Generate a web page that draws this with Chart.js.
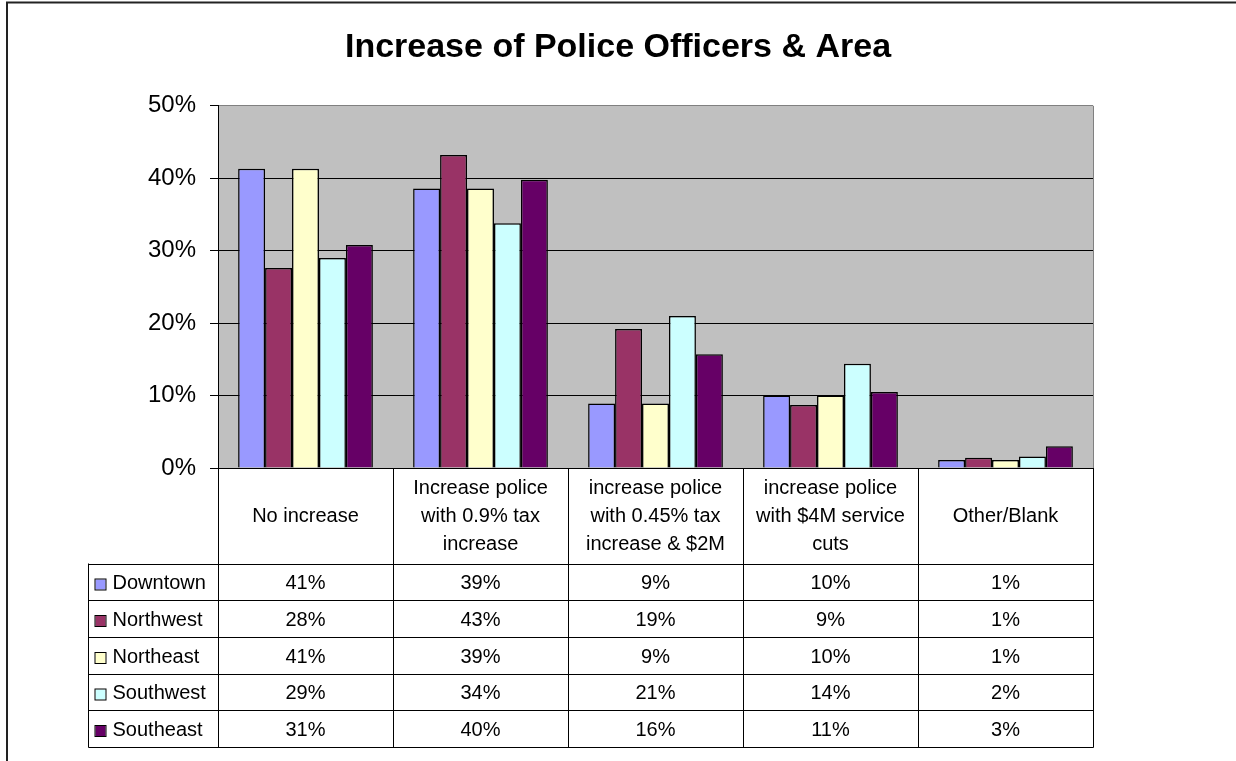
<!DOCTYPE html>
<html>
<head>
<meta charset="utf-8">
<title>Increase of Police Officers &amp; Area</title>
<script src="https://cdn.jsdelivr.net/npm/chart.js@4.4.1/dist/chart.umd.min.js"></script>
<style>
  html, body { margin: 0; padding: 0; background: #fff; }
  #wrap { position: relative; width: 1236px; height: 761px; }
</style>
</head>
<body>
<div id="wrap"><canvas id="chart"></canvas></div>
<script>
// survey answers, in percent of respondents per area
const categories = [
  ['No increase'],
  ['Increase police', 'with 0.9% tax', 'increase'],
  ['increase police', 'with 0.45% tax', 'increase & $2M'],
  ['increase police', 'with $4M service', 'cuts'],
  ['Other/Blank']
];
const regions = ['Downtown', 'Northwest', 'Northeast', 'Southwest', 'Southeast'];
const downtown  = [41.3, 38.6,  8.9, 10.0, 1.1];
const northwest = [27.6, 43.2, 19.2,  8.7, 1.4];
const northeast = [41.3, 38.6,  8.9, 10.0, 1.1];
const southwest = [29.0, 33.8, 21.0, 14.4, 1.6];
const southeast = [30.8, 39.8, 15.7, 10.5, 3.0];
const yTicks = [0, 10, 20, 30, 40, 50];

const values = [downtown, northwest, northeast, southwest, southeast];
const colors = ['#9999FF', '#993366', '#FFFFCC', '#CCFFFF', '#660066'];

const FONT = "'Liberation Sans', Arial, sans-serif";
const HEADER_H = 94;   // category row of the data table
const ROW_H = 36.7;    // one row per area
const KEY_W = 130;     // legend column left of the plot

const pct = v => Math.round(v) + '%';

const dataTable = {
  id: 'dataTable',
  beforeDraw(chart) {
    const { ctx, chartArea: a } = chart;
    ctx.save();
    ctx.fillStyle = '#C0C0C0';
    ctx.fillRect(a.left, a.top, a.right - a.left, a.bottom - a.top);
    ctx.restore();
  },
  afterDraw(chart) {
    const { ctx, chartArea: a, scales: { x } } = chart;
    const colW = x.width / categories.length;
    const top = Math.floor(a.bottom) + 0.5;
    const headBottom = Math.round(top + HEADER_H) + 0.5;
    const rowY = i => Math.round(headBottom + ROW_H * i) + 0.5;
    const bottom = rowY(regions.length);
    const keyLeft = Math.round(a.left - KEY_W) + 0.5;
    const right = Math.round(a.right) + 0.5;

    ctx.save();
    // plot border on the right
    ctx.strokeStyle = '#808080';
    ctx.lineWidth = 1;
    ctx.beginPath();
    ctx.moveTo(right, a.top);
    ctx.lineTo(right, a.bottom);
    ctx.stroke();

    // grid of the table
    ctx.strokeStyle = '#000';
    ctx.beginPath();
    for (let r = 0; r <= regions.length; r++) {
      ctx.moveTo(keyLeft, rowY(r));
      ctx.lineTo(right, rowY(r));
    }
    ctx.moveTo(keyLeft, headBottom);
    ctx.lineTo(keyLeft, bottom);
    for (let c = 0; c <= categories.length; c++) {
      const xx = Math.round(a.left + colW * c) + 0.5;
      ctx.moveTo(xx, top);
      ctx.lineTo(xx, bottom);
    }
    ctx.stroke();

    ctx.fillStyle = '#000';
    ctx.font = '20px ' + FONT;
    ctx.textBaseline = 'middle';

    // category headers
    ctx.textAlign = 'center';
    const headMid = (top + headBottom) / 2;
    categories.forEach((lines, i) => {
      const cx = x.getPixelForValue(i);
      lines.forEach((line, j) => {
        ctx.fillText(line, cx, headMid + (j - (lines.length - 1) / 2) * 28);
      });
    });

    // one row per area: key, name, values
    regions.forEach((name, r) => {
      const cy = (rowY(r) + rowY(r + 1)) / 2 + 1;
      ctx.fillStyle = colors[r];
      ctx.fillRect(keyLeft + 7, cy - 4, 10, 10);
      ctx.strokeStyle = '#000';
      ctx.strokeRect(keyLeft + 6.5, cy - 4.5, 11, 11);
      ctx.fillStyle = '#000';
      ctx.textAlign = 'left';
      ctx.fillText(name, keyLeft + 24, cy);
      ctx.textAlign = 'center';
      values[r].forEach((v, i) => ctx.fillText(pct(v), x.getPixelForValue(i), cy));
    });

    // frame of the whole chart
    ctx.strokeStyle = '#222';
    ctx.lineWidth = 2;
    ctx.beginPath();
    ctx.moveTo(7, chart.height);
    ctx.lineTo(7, 2.5);
    ctx.lineTo(chart.width, 2.5);
    ctx.stroke();
    ctx.restore();
  }
};

new Chart(document.getElementById('chart'), {
  type: 'bar',
  data: {
    labels: categories,
    datasets: regions.map((name, i) => ({
      label: name,
      data: values[i],
      backgroundColor: colors[i],
      borderColor: '#000',
      borderWidth: 1.5,
      categoryPercentage: 0.77,
      barPercentage: 1.0
    }))
  },
  options: {
    responsive: true,
    maintainAspectRatio: false,
    animation: false,
    events: [],
    layout: { padding: { left: 143, right: 143, top: 0, bottom: 293 } },
    plugins: {
      legend: { display: false },
      tooltip: { enabled: false },
      title: {
        display: true,
        text: 'Increase of Police Officers & Area',
        color: '#000',
        font: { family: FONT, size: 34, weight: 'bold' },
        padding: { top: 27, bottom: 38 }
      }
    },
    scales: {
      x: {
        afterFit: s => { s.height = 0; },
        grid: { display: false, drawTicks: false },
        ticks: { display: false },
        border: { color: '#000', width: 1 }
      },
      y: {
        min: 0,
        max: 50,
        afterFit: s => { s.width = 75; },
        afterBuildTicks: s => { s.ticks = yTicks.map(v => ({ value: v })); },
        ticks: {
          color: '#000',
          padding: 14,
          font: { family: FONT, size: 24 },
          callback: v => v + '%'
        },
        grid: {
          color: c => (c.tick && c.tick.value === 50 ? '#808080' : '#000'),
          tickColor: '#000',
          tickLength: 8,
          lineWidth: 1
        },
        border: { color: '#000', width: 1 }
      }
    }
  },
  plugins: [dataTable]
});
</script>
</body>
</html>
